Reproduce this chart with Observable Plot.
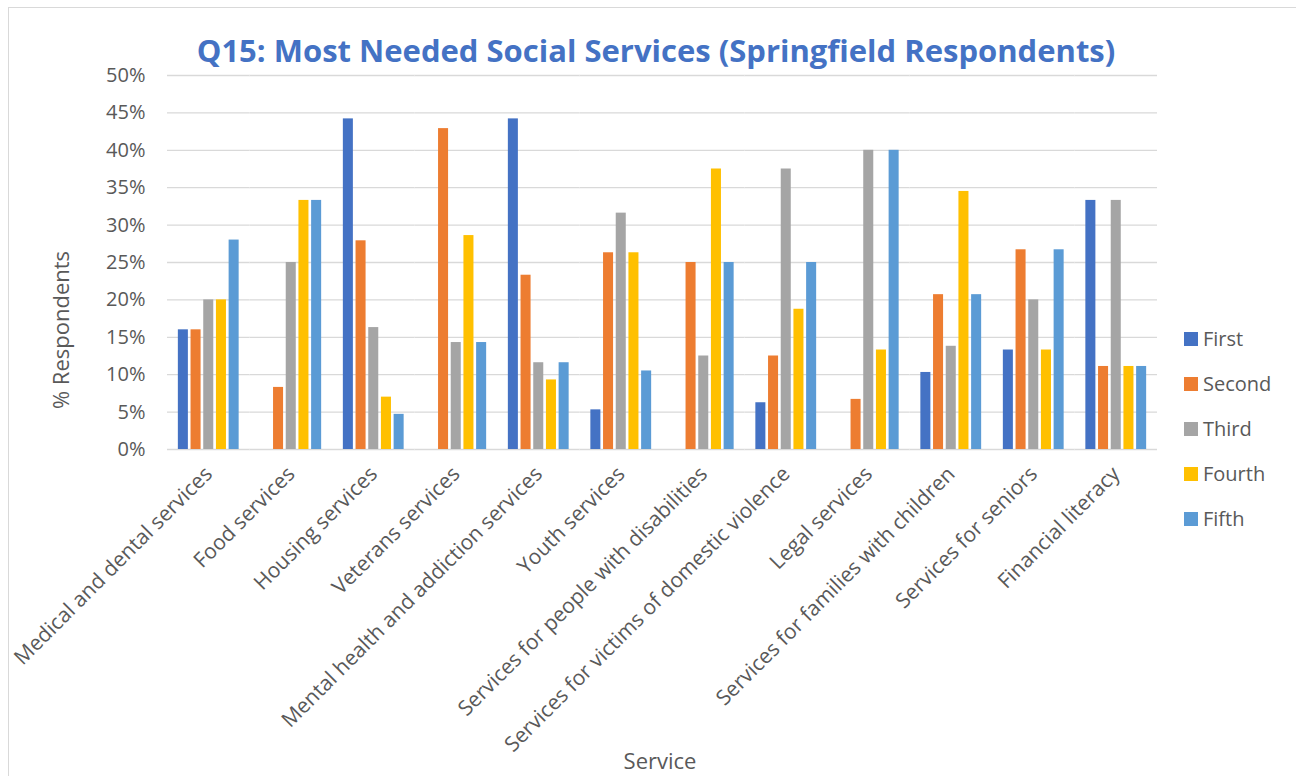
<!DOCTYPE html>
<html>
<head>
<meta charset="utf-8">
<script src="https://cdn.jsdelivr.net/npm/d3@7"></script>
<script src="https://cdn.jsdelivr.net/npm/@observablehq/plot@0.6"></script>
<style>
  html, body { margin: 0; padding: 0; background: #fff; }
  body { width: 1296px; height: 776px; overflow: hidden; position: relative; font-family: "Open Sans", sans-serif; }
  #frame { position: absolute; left: 8px; top: 7px; width: 1300px; height: 800px; border: 1px solid #D9D9D9; box-sizing: border-box; pointer-events: none; }
  #title { height: 60px; line-height: 60px; text-align: center; width: 1312px; color: #4472C4; font-weight: 700; font-size: 31px; white-space: nowrap; position: relative; top: 20px; }
  #chart { position: absolute; left: 0; top: 60px; }
  #ylabel { position: absolute; left: 60px; top: 330px; transform: translate(-50%, -50%) rotate(-90deg); font-size: 22px; color: #595959; white-space: nowrap; }
  #xlabel { position: absolute; left: 660px; top: 760px; transform: translate(-50%, -50%); font-size: 22px; color: #595959; white-space: nowrap; }
  #legend { position: absolute; left: 1184px; top: 339px; }
  .item { position: absolute; left: 0; height: 0; white-space: nowrap; }
  .sw { position: absolute; left: 0; top: -7px; width: 14px; height: 14px; }
  .lt { position: absolute; left: 19px; top: -14px; line-height: 28px; font-size: 20px; color: #595959; }
</style>
</head>
<body>
<div id="title">Q15: Most Needed Social Services (Springfield Respondents)</div>
<div id="chart"></div>
<div id="ylabel">% Respondents</div>
<div id="xlabel">Service</div>
<div id="legend"></div>
<div id="frame"></div>
<script>
const services = [
  "Medical and dental services",
  "Food services",
  "Housing services",
  "Veterans services",
  "Mental health and addiction services",
  "Youth services",
  "Services for people with disabilities",
  "Services for victims of domestic violence",
  "Legal services",
  "Services for families with children",
  "Services for seniors",
  "Financial literacy"
];
const ranks = ["First", "Second", "Third", "Fourth", "Fifth"];
const first  = [16, 0, 44.2, 0, 44.2, 5.3, 0, 6.25, 0, 10.3, 13.3, 33.3];
const second = [16, 8.3, 27.9, 42.9, 23.3, 26.3, 25, 12.5, 6.7, 20.7, 26.7, 11.1];
const third  = [20, 25, 16.3, 14.3, 11.6, 31.6, 12.5, 37.5, 40, 13.8, 20, 33.3];
const fourth = [20, 33.3, 7.0, 28.6, 9.3, 26.3, 37.5, 18.75, 13.3, 34.5, 13.3, 11.1];
const fifth  = [28, 33.3, 4.7, 14.3, 11.6, 10.5, 25, 25, 40, 20.7, 26.7, 11.1];
const yTicks = [0, 5, 10, 15, 20, 25, 30, 35, 40, 45, 50];
const colors = ["#4472C4", "#ED7D31", "#A5A5A5", "#FFC000", "#5B9BD5"];

const series = [first, second, third, fourth, fifth];
const data = [];
services.forEach((s, i) => {
  ranks.forEach((r, j) => {
    data.push({service: s, rank: r, value: series[j][i]});
  });
});

const chart = Plot.plot({
  width: 1296,
  height: 716,
  marginTop: 15,
  marginLeft: 167,
  marginRight: 139,
  marginBottom: 327,
  style: {fontFamily: "'Open Sans', sans-serif", fontSize: "20px", color: "#595959", background: "transparent"},
  fx: {domain: services, padding: 0, round: false},
  x: {domain: ranks, paddingInner: 0.21, paddingOuter: 0.855, round: false},
  y: {domain: [0, 50]},
  color: {domain: ranks, range: colors},
  marks: [
    Plot.gridY(yTicks, {stroke: "#D9D9D9", strokeOpacity: 1, strokeWidth: 1.3}),
    Plot.barY(data, {fx: "service", x: "rank", y: "value", fill: "rank"}),
    Plot.axisY(yTicks, {tickSize: 0, tickPadding: 22, tickFormat: d => d + "%", label: null, fontSize: 20}),
    Plot.axisX({ticks: [], label: null}),
    Plot.axisFx({anchor: "bottom", tickSize: 0, tickPadding: 21, tickRotate: -45, label: null, fontSize: 21, textOverflow: null, lineWidth: 100})
  ]
});
document.getElementById("chart").appendChild(chart);

const legend = document.getElementById("legend");
ranks.forEach((r, i) => {
  const item = document.createElement("div");
  item.className = "item";
  item.style.top = (i * 45) + "px";
  const sw = document.createElement("div");
  sw.className = "sw";
  sw.style.background = colors[i];
  const lt = document.createElement("div");
  lt.className = "lt";
  lt.textContent = r;
  item.appendChild(sw);
  item.appendChild(lt);
  legend.appendChild(item);
});
</script>
</body>
</html>
